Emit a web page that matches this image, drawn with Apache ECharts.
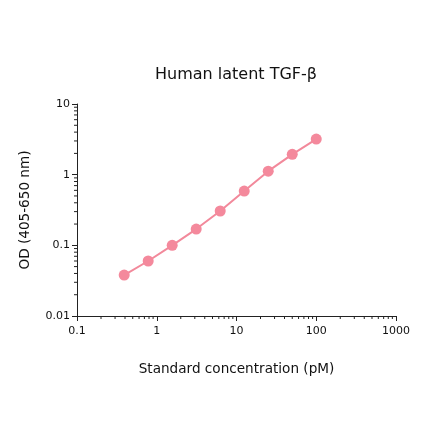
<!DOCTYPE html>
<html>
<head>
    <meta charset="utf-8">
    <title>Human latent TGF-β</title>
    <script src="https://cdn.jsdelivr.net/npm/echarts@6/dist/echarts.min.js"></script>
    <style>
        html, body { margin: 0; padding: 0; background: #fff; }
        #main { width: 440px; height: 441px; }
    </style>
</head>
<body>
<div id="main"></div>
<script type="text/javascript">
    // standard curve, doubling dilutions
    var concentration = [0.390625, 0.78125, 1.5625, 3.125, 6.25, 12.5, 25, 50, 100];
    var od = [0.038, 0.060, 0.100, 0.170, 0.306, 0.586, 1.12, 1.94, 3.19];
    var xTicks = [0.1, 1, 10, 100, 1000];
    var yTicks = [0.01, 0.1, 1, 10];

    // minor ticks at 2..9 x each decade
    function minors(ticks) {
        var out = [];
        for (var i = 0; i < ticks.length - 1; i++) {
            for (var m = 2; m <= 9; m++) out.push(ticks[i] * m);
        }
        return out;
    }
    var xMinor = minors(xTicks);
    var yMinor = minors(yTicks);

    var axisColor = '#222';
    var font = 'DejaVu Sans';

    var chart = echarts.init(document.getElementById('main'));
    chart.setOption({
        animation: false,
        title: {
            text: 'Human latent TGF-β',
            left: 150,
            top: 62,
            textStyle: {fontFamily: font, fontSize: 16, fontWeight: 'normal', color: '#111'}
        },
        grid: {left: 77, right: 44, top: 104, bottom: 125},
        xAxis: {
            type: 'log',
            logBase: 10,
            min: 0.1,
            max: 1000,
            name: 'Standard concentration (pM)',
            nameLocation: 'middle',
            nameGap: 46,
            nameTextStyle: {fontFamily: font, fontSize: 13.6, color: '#111'},
            axisLine: {lineStyle: {color: axisColor, width: 1}},
            axisTick: {show: true, length: 5, lineStyle: {color: axisColor}},
            axisLabel: {
                fontFamily: font, fontSize: 11, color: '#111', margin: 10,
                formatter: function (v) { return String(+v.toPrecision(6)); }
            },
            splitLine: {show: false}
        },
        yAxis: {
            type: 'log',
            logBase: 10,
            min: 0.01,
            max: 10,
            name: 'OD (405-650 nm)',
            nameLocation: 'middle',
            nameGap: 45,
            nameTextStyle: {fontFamily: font, fontSize: 13.6, color: '#111'},
            axisLine: {show: true, lineStyle: {color: axisColor, width: 1}},
            axisTick: {show: true, length: 5, lineStyle: {color: axisColor}},
            axisLabel: {
                fontFamily: font, fontSize: 11, color: '#111', margin: 7,
                formatter: function (v) { return String(+v.toPrecision(6)); }
            },
            splitLine: {show: false}
        },
        series: [
            {
                type: 'line',
                data: concentration.map(function (c, i) { return [c, od[i]]; }),
                symbol: 'circle',
                symbolSize: 11,
                lineStyle: {color: '#f2899b', width: 2},
                itemStyle: {color: '#f4899c'},
                z: 3
            },
            {
                // minor ticks on the x axis
                type: 'custom',
                silent: true,
                data: xMinor.map(function (v) { return [v, 0.01]; }),
                renderItem: function (params, api) {
                    var p = api.coord([api.value(0), api.value(1)]);
                    return {
                        type: 'line',
                        shape: {x1: p[0], y1: p[1], x2: p[0], y2: p[1] + 3},
                        style: {stroke: axisColor, lineWidth: 1}
                    };
                },
                clip: false
            },
            {
                // minor ticks on the y axis
                type: 'custom',
                silent: true,
                data: yMinor.map(function (v) { return [0.1, v]; }),
                renderItem: function (params, api) {
                    var p = api.coord([api.value(0), api.value(1)]);
                    return {
                        type: 'line',
                        shape: {x1: p[0], y1: p[1], x2: p[0] - 3, y2: p[1]},
                        style: {stroke: axisColor, lineWidth: 1}
                    };
                },
                clip: false
            }
        ]
    });
</script>
</body>
</html>
